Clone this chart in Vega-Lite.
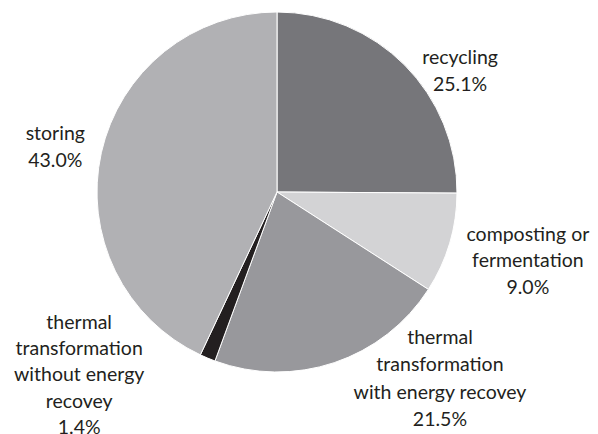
{
  "$schema": "https://vega.github.io/schema/vega-lite/v6.json",
  "width": 554,
  "height": 384,
  "padding": 0,
  "background": "white",
  "view": {"stroke": null},
  "data": {
    "values": [
      {"name": "recycling", "value": 25.1, "label": ["recycling", "25.1%"]},
      {"name": "composting or fermentation", "value": 9.0, "label": ["composting or", "fermentation", "9.0%"]},
      {"name": "thermal transformation with energy recovey", "value": 21.5, "label": ["thermal", "transformation", "with energy  recovey", "21.5%"]},
      {"name": "thermal transformation without energy recovey", "value": 1.4, "label": ["thermal", "transformation", "without energy", "recovey", "1.4%"]},
      {"name": "storing", "value": 43.0, "label": ["storing", "43.0%"]}
    ]
  },
  "transform": [
    {"stack": "value", "groupby": [], "as": ["v0", "v1"]},
    {"calculate": "(datum.v0 + datum.v1) / 2", "as": "mid"}
  ],
  "layer": [
    {
      "mark": {"type": "arc", "stroke": "white", "strokeWidth": 1, "outerRadius": 180},
      "encoding": {
        "theta": {"field": "v0", "type": "quantitative", "scale": {"domain": [0, 100], "range": [0, 6.283185307]}},
        "theta2": {"field": "v1"},
        "color": {
          "field": "name", "type": "nominal", "legend": null,
          "scale": {
            "domain": ["recycling", "composting or fermentation", "thermal transformation with energy recovey", "thermal transformation without energy recovey", "storing"],
            "range": ["#76767a", "#d3d3d5", "#98989c", "#231f20", "#b1b1b4"]
          }
        }
      }
    },
    {
      "transform": [{"filter": "datum.name === 'recycling'"}],
      "mark": {"type": "text", "font": "Lato", "fontSize": 19.5, "lineHeight": 27, "color": "#231f20", "align": "center", "baseline": "middle", "radius": 220, "dx": 27, "dy": 21},
      "encoding": {"theta": {"field": "mid", "type": "quantitative", "scale": {"domain": [0, 100], "range": [0, 6.283185307]}}, "text": {"field": "label"}}
    },
    {
      "transform": [{"filter": "datum.name === 'composting or fermentation'"}],
      "mark": {"type": "text", "font": "Lato", "fontSize": 19.5, "lineHeight": 26.5, "color": "#231f20", "align": "center", "baseline": "middle", "radius": 220, "dx": 40, "dy": -20},
      "encoding": {"theta": {"field": "mid", "type": "quantitative", "scale": {"domain": [0, 100], "range": [0, 6.283185307]}}, "text": {"field": "label"}}
    },
    {
      "transform": [{"filter": "datum.name === 'thermal transformation with energy recovey'"}],
      "mark": {"type": "text", "font": "Lato", "fontSize": 19.5, "lineHeight": 27.5, "color": "#231f20", "align": "center", "baseline": "middle", "radius": 220, "dx": 93, "dy": -63},
      "encoding": {"theta": {"field": "mid", "type": "quantitative", "scale": {"domain": [0, 100], "range": [0, 6.283185307]}}, "text": {"field": "label"}}
    },
    {
      "transform": [{"filter": "datum.name === 'thermal transformation without energy recovey'"}],
      "mark": {"type": "text", "font": "Lato", "fontSize": 19.5, "lineHeight": 26.2, "color": "#231f20", "align": "center", "baseline": "middle", "radius": 220, "dx": -113, "dy": -72},
      "encoding": {"theta": {"field": "mid", "type": "quantitative", "scale": {"domain": [0, 100], "range": [0, 6.283185307]}}, "text": {"field": "label"}}
    },
    {
      "transform": [{"filter": "datum.name === 'storing'"}],
      "mark": {"type": "text", "font": "Lato", "fontSize": 19.5, "lineHeight": 27, "color": "#231f20", "align": "center", "baseline": "middle", "radius": 220, "dx": -7, "dy": -10},
      "encoding": {"theta": {"field": "mid", "type": "quantitative", "scale": {"domain": [0, 100], "range": [0, 6.283185307]}}, "text": {"field": "label"}}
    }
  ]
}
